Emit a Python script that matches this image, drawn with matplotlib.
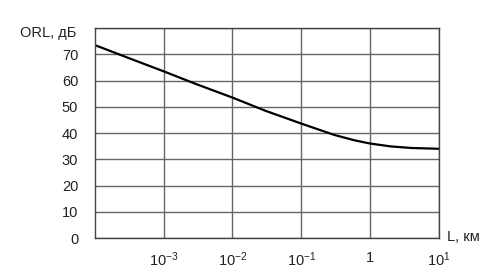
import numpy as np
import matplotlib.pyplot as plt
from matplotlib.ticker import FixedLocator, FixedFormatter

plt.rcParams['font.family'] = ['Liberation Sans', 'DejaVu Sans']
plt.rcParams['mathtext.fontset'] = 'custom'
plt.rcParams['mathtext.rm'] = 'Liberation Sans'
plt.rcParams['mathtext.it'] = 'Liberation Sans'

# Data
length_km = [1e-4, 3e-4, 1e-3, 3e-3, 1e-2, 3e-2, 1e-1, 0.3, 0.6, 1.0, 2.0, 4.0, 10.0]
orl_db = [73.5, 68.7, 63.5, 58.6, 53.5, 48.5, 43.6, 39.3, 37.2, 36.0, 34.9, 34.3, 34.0]

x_ticks = [1e-3, 1e-2, 1e-1, 1, 10]
x_tick_labels = ['$10^{-3}$', '$10^{-2}$', '$10^{-1}$', '1', '$10^{1}$']
y_ticks = [0, 10, 20, 30, 40, 50, 60, 70]

fig = plt.figure(figsize=(4.97, 2.75), dpi=100)
ax = fig.add_axes([0.191, 0.1345, 0.692, 0.7635])

ax.plot(length_km, orl_db, color='black', lw=1.6)

ax.set_xscale('log')
ax.set_xlim(1e-4, 10)
ax.set_ylim(0, 80)

ax.xaxis.set_major_locator(FixedLocator(x_ticks))
ax.xaxis.set_major_formatter(FixedFormatter(x_tick_labels))
ax.xaxis.set_minor_locator(FixedLocator([]))
ax.set_yticks(y_ticks)

ax.grid(True, which='major', color='#666666', lw=1.0)
ax.axhline(80, color='#666666', lw=1.0)
ax.tick_params(axis='both', length=0, labelsize=10.5, colors='#222222')
ax.tick_params(axis='y', pad=12)
ax.tick_params(axis='x', pad=9)

for s in ax.spines.values():
    s.set_color('#444444')
    s.set_linewidth(1.0)

fig.text(20 / 497, 1 - 33 / 275, 'ORL, дБ', fontsize=10.5, va='center', ha='left', color='#222222')
fig.text(447 / 497, 1 - 237 / 275, 'L, км', fontsize=10.5, va='center', ha='left', color='#222222')

plt.savefig('out.png', dpi=100)
